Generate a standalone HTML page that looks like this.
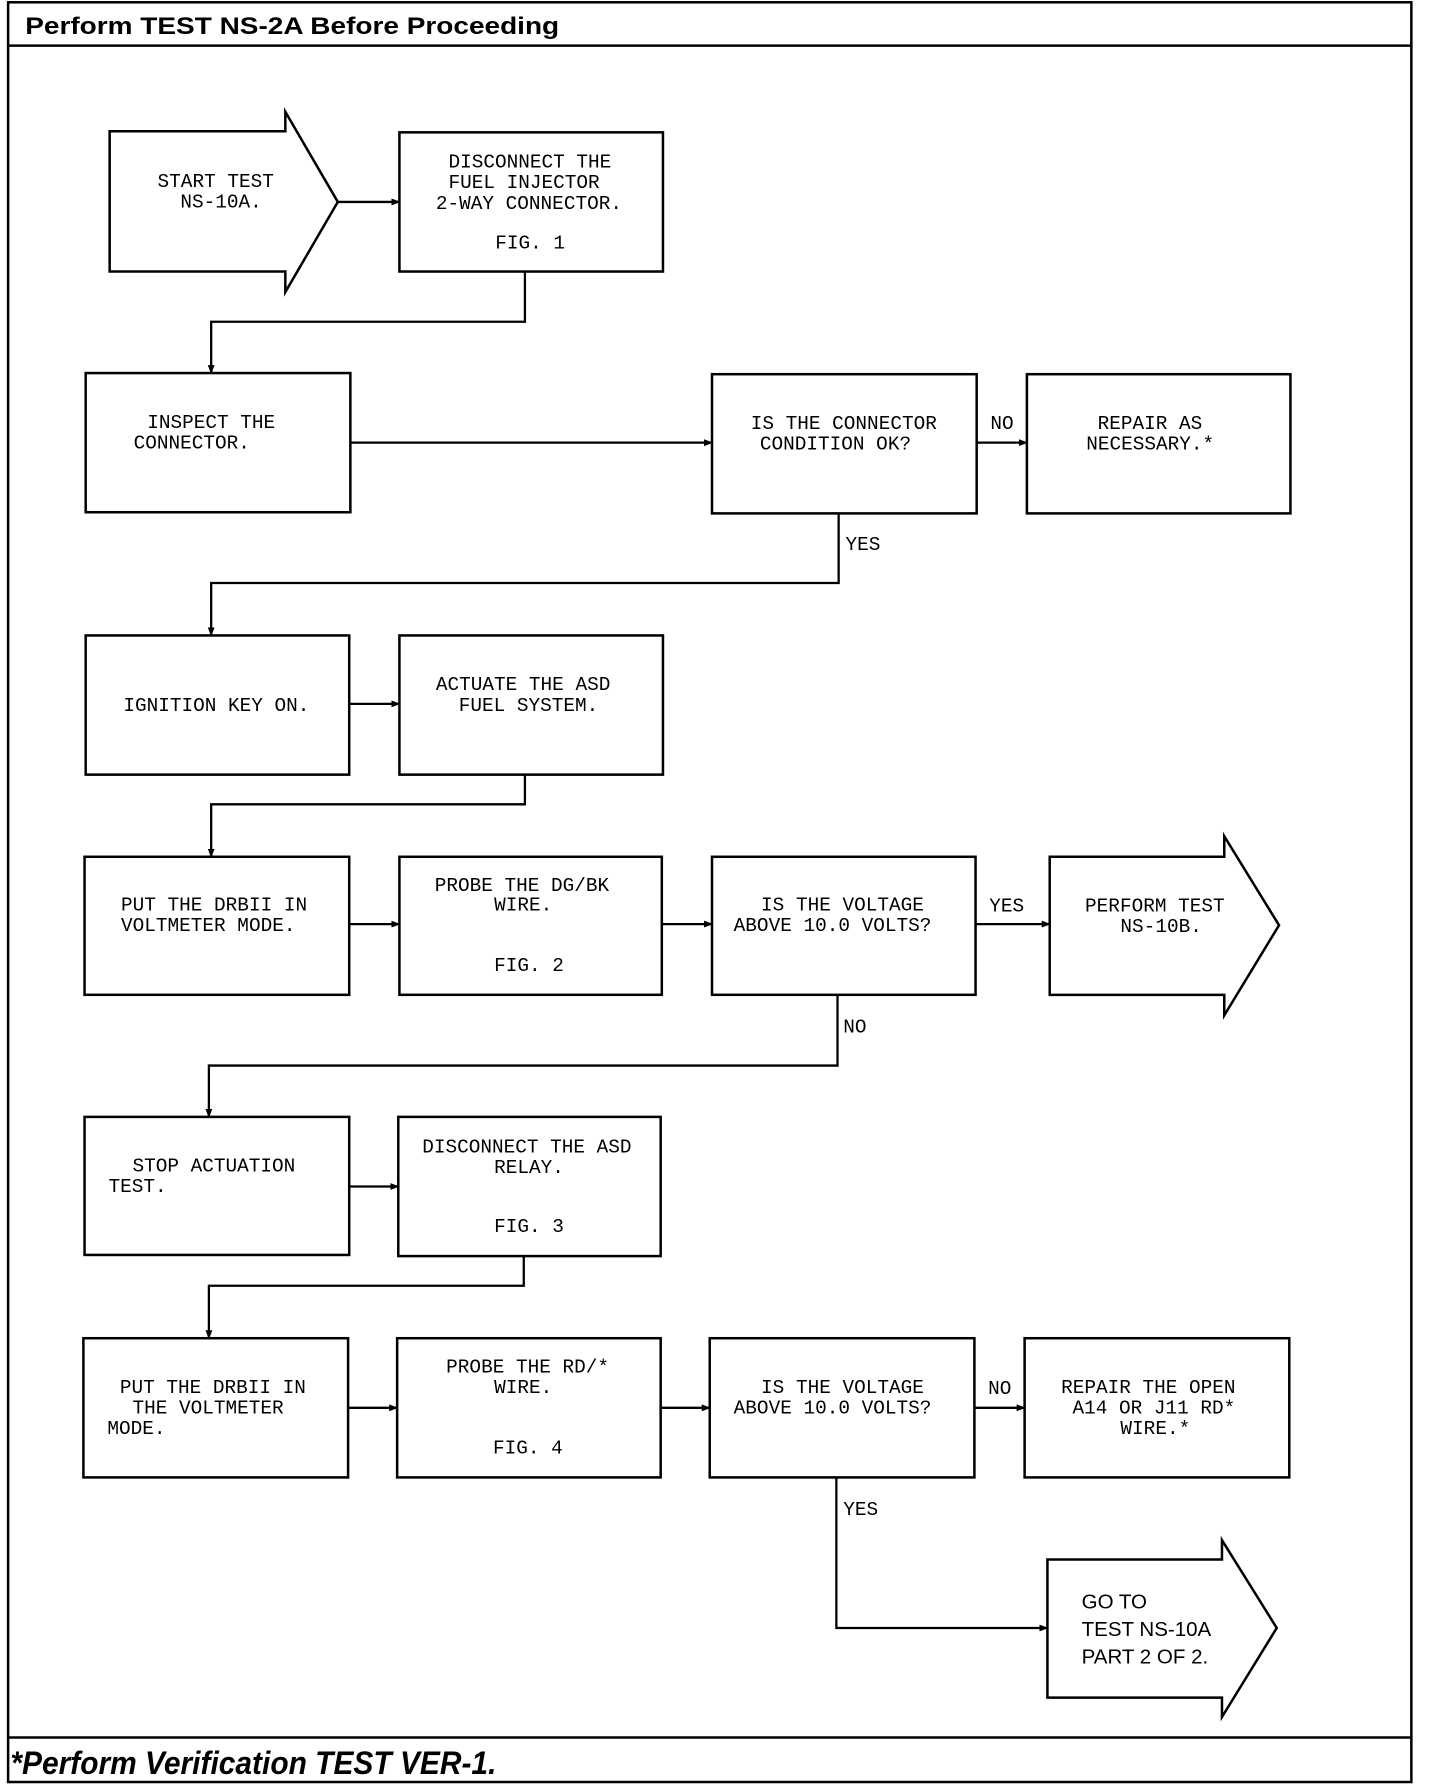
<!DOCTYPE html>
<html><head><meta charset="utf-8"><style>
html,body{margin:0;padding:0;background:#fff;}
svg{display:block;}
.t{font-family:"Liberation Mono",monospace;font-size:17px;fill:#000;}
.s{font-family:"Liberation Sans",sans-serif;font-size:18px;fill:#000;}
</style></head><body>
<svg width="1440" height="1790" viewBox="0 0 1262 1569" xmlns="http://www.w3.org/2000/svg">
<defs><marker id="a" markerWidth="8" markerHeight="8" refX="7" refY="4" orient="auto" markerUnits="userSpaceOnUse"><path d="M0,1 L8,4 L0,7 Z" fill="#000"/></marker></defs>
<g fill="none" stroke="#000" stroke-width="2.2">
<rect x="7" y="2" width="1230" height="1560"/>
<line x1="7" y1="40" x2="1237" y2="40"/>
<line x1="7" y1="1523" x2="1237" y2="1523"/>
<path d="M96,115 H250 V98 L296,177 L250,256 V238 H96 Z"/>
<rect x="350" y="116" width="231" height="122"/>
<rect x="75" y="327" width="232" height="122"/>
<rect x="624" y="328" width="232" height="122"/>
<rect x="900" y="328" width="231" height="122"/>
<rect x="75" y="557" width="231" height="122"/>
<rect x="350" y="557" width="231" height="122"/>
<rect x="74" y="751" width="232" height="121"/>
<rect x="350" y="751" width="230" height="121"/>
<rect x="624" y="751" width="231" height="121"/>
<path d="M920,751 H1073 V733 L1121,811 L1073,890 V872 H920 Z"/>
<rect x="74" y="979" width="232" height="121"/>
<rect x="349" y="979" width="230" height="122"/>
<rect x="73" y="1173" width="232" height="122"/>
<rect x="348" y="1173" width="231" height="122"/>
<rect x="622" y="1173" width="232" height="122"/>
<rect x="898" y="1173" width="232" height="122"/>
<path d="M918,1367 H1071 V1350 L1119,1427 L1071,1505 V1488 H918 Z"/>
</g>
<g fill="none" stroke="#000" stroke-width="2" marker-end="url(#a)">
<line x1="296" y1="177" x2="350" y2="177"/>
<path d="M460,238 V282 H185 V327"/>
<line x1="307" y1="388" x2="624" y2="388"/>
<line x1="856" y1="388" x2="900" y2="388"/>
<path d="M735,450 V511 H185 V557"/>
<line x1="306" y1="617" x2="350" y2="617"/>
<path d="M460,679 V705 H185 V751"/>
<line x1="306" y1="810" x2="350" y2="810"/>
<line x1="580" y1="810" x2="624" y2="810"/>
<line x1="855" y1="810" x2="920" y2="810"/>
<path d="M734,872 V934 H183 V979"/>
<line x1="306" y1="1040" x2="349" y2="1040"/>
<path d="M459,1101 V1127 H183 V1173"/>
<line x1="305" y1="1234" x2="348" y2="1234"/>
<line x1="579" y1="1234" x2="622" y2="1234"/>
<line x1="854" y1="1234" x2="898" y2="1234"/>
<path d="M733,1295 V1427 H918"/>
</g>
<text x="22" y="30" font-family="Liberation Sans,sans-serif" font-weight="bold" font-size="21" textLength="468" lengthAdjust="spacingAndGlyphs">Perform TEST NS-2A Before Proceeding</text>
<text x="9" y="1555" font-family="Liberation Sans,sans-serif" font-weight="bold" font-style="italic" font-size="28" textLength="426" lengthAdjust="spacingAndGlyphs">*Perform Verification TEST VER-1.</text>
<g class="t">
<text x="138" y="164">START TEST</text>
<text x="158" y="182">NS-10A.</text>
<text x="393" y="147">DISCONNECT THE</text>
<text x="393" y="165">FUEL INJECTOR</text>
<text x="382" y="183">2-WAY CONNECTOR.</text>
<text x="434" y="218">FIG. 1</text>
<text x="129" y="375">INSPECT THE</text>
<text x="117" y="393">CONNECTOR.</text>
<text x="658" y="376">IS THE CONNECTOR</text>
<text x="666" y="394">CONDITION OK?</text>
<text x="868" y="376">NO</text>
<text x="962" y="376">REPAIR AS</text>
<text x="952" y="394">NECESSARY.*</text>
<text x="741" y="482">YES</text>
<text x="108" y="623">IGNITION KEY ON.</text>
<text x="382" y="605">ACTUATE THE ASD</text>
<text x="402" y="623">FUEL SYSTEM.</text>
<text x="106" y="798">PUT THE DRBII IN</text>
<text x="106" y="816">VOLTMETER MODE.</text>
<text x="381" y="781">PROBE THE DG/BK</text>
<text x="433" y="798">WIRE.</text>
<text x="433" y="851">FIG. 2</text>
<text x="667" y="798">IS THE VOLTAGE</text>
<text x="643" y="816">ABOVE 10.0 VOLTS?</text>
<text x="867" y="799">YES</text>
<text x="951" y="799">PERFORM TEST</text>
<text x="982" y="817">NS-10B.</text>
<text x="739" y="905">NO</text>
<text x="116" y="1027">STOP ACTUATION</text>
<text x="95" y="1045">TEST.</text>
<text x="370" y="1010">DISCONNECT THE ASD</text>
<text x="433" y="1028">RELAY.</text>
<text x="433" y="1080">FIG. 3</text>
<text x="105" y="1221">PUT THE DRBII IN</text>
<text x="116" y="1239">THE VOLTMETER</text>
<text x="94" y="1257">MODE.</text>
<text x="391" y="1203">PROBE THE RD/*</text>
<text x="433" y="1221">WIRE.</text>
<text x="432" y="1274">FIG. 4</text>
<text x="667" y="1221">IS THE VOLTAGE</text>
<text x="643" y="1239">ABOVE 10.0 VOLTS?</text>
<text x="866" y="1222">NO</text>
<text x="930" y="1221">REPAIR THE OPEN</text>
<text x="940" y="1239">A14 OR J11 RD*</text>
<text x="982" y="1257">WIRE.*</text>
<text x="739" y="1328">YES</text>
</g>
<g class="s">
<text x="948" y="1410">GO TO</text>
<text x="948" y="1434">TEST NS-10A</text>
<text x="948" y="1458">PART 2 OF 2.</text>
</g>
</svg>
</body></html>
